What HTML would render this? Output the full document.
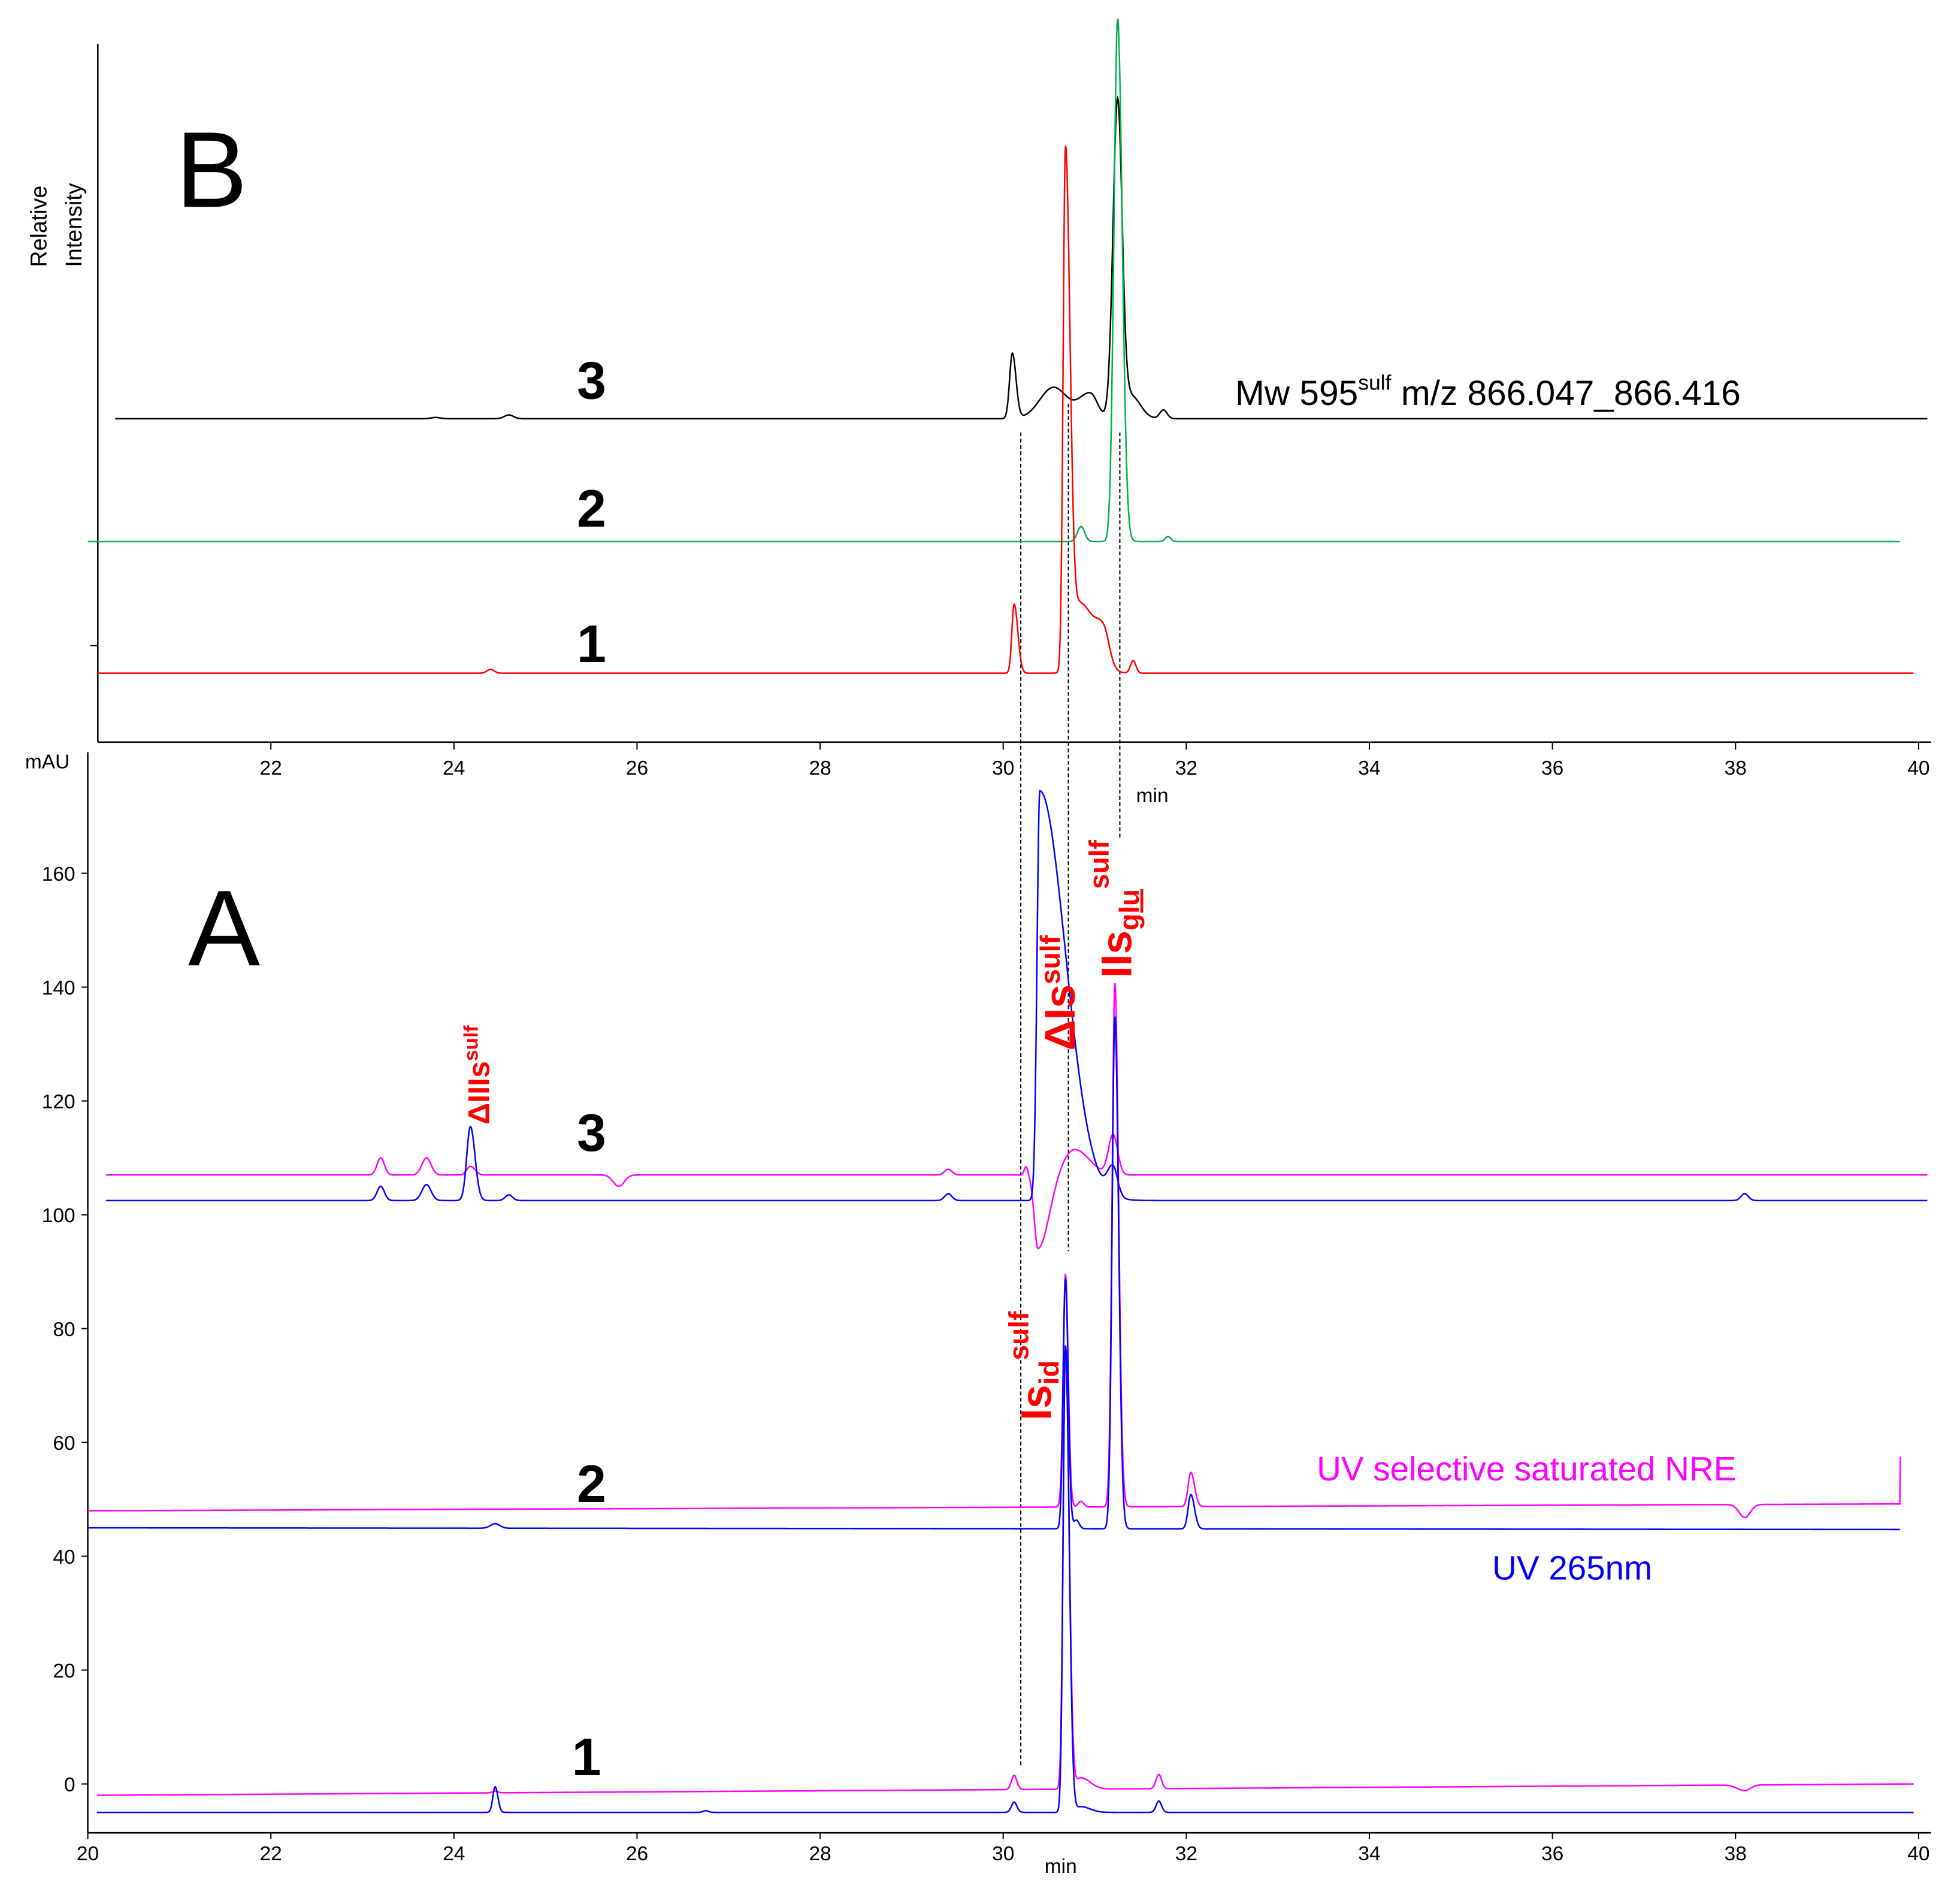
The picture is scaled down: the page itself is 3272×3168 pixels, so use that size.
<!DOCTYPE html>
<html><head><meta charset="utf-8"><style>
html,body{margin:0;padding:0;background:#fff}
svg{display:block}
text{font-family:"Liberation Sans",sans-serif}
</style></head><body>
<svg id="chart" width="3272" height="3168" viewBox="0 0 1563 1514" preserveAspectRatio="none" xmlns="http://www.w3.org/2000/svg">
<g id="axes"></g>
<g id="traces"></g>
<g id="labels">
<text x="140" y="165" font-size="86">B</text>
<text x="150" y="770" font-size="86">A</text>
<text transform="translate(37,213) rotate(-90)" font-size="18">Relative</text>
<text transform="translate(65,213) rotate(-90)" font-size="18">Intensity</text>
<text x="20" y="613" font-size="16">mAU</text>
<text x="906" y="640" font-size="16">min</text>
<text x="833" y="1494" font-size="16">min</text>
<g font-size="42" font-weight="bold">
<text x="460" y="318">3</text>
<text x="460" y="420">2</text>
<text x="460" y="528">1</text>
<text x="460" y="918">3</text>
<text x="460" y="1198">2</text>
<text x="456" y="1416">1</text>
</g>
<text x="985" y="323" font-size="28">Mw 595<tspan font-size="17" dy="-12">sulf</tspan><tspan dy="12"> m/z 866.047_866.416</tspan></text>
<text x="1050" y="1181" font-size="27" fill="#ff00ff">UV selective saturated NRE</text>
<text x="1190" y="1260" font-size="27" fill="#0000ff">UV 265nm</text>
<g fill="#ff0000" font-weight="bold">
<text transform="translate(390,897) rotate(-90)" font-size="24">ΔIIIs<tspan font-size="16" dy="-9">sulf</tspan></text>
<text transform="translate(857,838) rotate(-90)" font-size="34">ΔIs<tspan font-size="22" dy="-12">sulf</tspan></text>
<text transform="translate(902,780) rotate(-90)" font-size="34">IIs<tspan font-size="22" dy="6" text-decoration="underline">glu</tspan><tspan font-size="22" dy="-24">sulf</tspan></text>
<text transform="translate(838,1133) rotate(-90)" font-size="34">Is<tspan font-size="22" dy="6">id</tspan><tspan font-size="22" dy="-24">sulf</tspan></text>
</g>
</g>
</svg>
<script>
// tick data
const xTicksA = [20,22,24,26,28,30,32,34,36,38,40];
const xTicksB = [22,24,26,28,30,32,34,36,38,40];
const yTicksA = [0,20,40,60,80,100,120,140,160];
// peak data: [time, height, leftWidth, rightWidth]
const peaksB3 = [[24.6,3,0.05,0.05],[23.8,1,0.05,0.05],[30.1,52,0.03,0.04],[30.55,25,0.15,0.15],[30.95,20,0.12,0.08],[31.25,255,0.05,0.05],[31.4,18,0.06,0.1],[31.75,7,0.04,0.04]];
const peaksB2 = [[30.85,12,0.04,0.04],[31.25,417,0.04,0.05],[31.8,4,0.03,0.03]];
const peaksB1 = [[24.4,3,0.04,0.04],[30.12,55,0.025,0.04],[30.68,415,0.025,0.05],[30.85,55,0.08,0.15],[31.1,25,0.08,0.06],[31.42,10,0.03,0.03]];
const peaksA3blue = [[23.2,2.5,0.04,0.04],[23.7,2.8,0.05,0.05],[24.18,13,0.04,0.05],[24.6,1,0.04,0.04],[29.4,1.2,0.04,0.04],[30.4,72,0.03,0.28],[31.2,5,0.06,0.05],[38.1,1.2,0.04,0.04]];
const peaksA3mag = [[23.2,3,0.04,0.04],[23.7,3,0.05,0.05],[24.18,1.5,0.04,0.05],[25.8,-2,0.06,0.06],[29.4,1,0.04,0.04],[30.25,1.5,0.02,0.02],[30.38,-13,0.04,0.12],[30.78,4.5,0.14,0.16],[31.2,7,0.05,0.05]];
const peaksA2blue = [[24.45,0.8,0.05,0.05],[30.68,44,0.025,0.03],[30.8,1.5,0.03,0.03],[31.22,90,0.03,0.04],[32.05,6,0.03,0.04]];
const peaksA2mag = [[30.68,41,0.025,0.03],[30.85,1,0.03,0.03],[31.22,92,0.03,0.04],[32.05,6,0.03,0.04],[38.1,-2.3,0.06,0.06]];
const peaksA1blue = [[24.45,4.5,0.025,0.03],[26.75,0.3,0.03,0.03],[30.12,1.8,0.03,0.03],[30.68,82,0.025,0.04],[30.85,1,0.05,0.1],[31.7,2,0.03,0.03]];
const peaksA1mag = [[24.45,0.3,0.03,0.03],[30.12,2.5,0.03,0.03],[30.68,78,0.025,0.04],[30.85,2,0.05,0.1],[31.7,2.5,0.03,0.03],[38.1,-1,0.08,0.06]];

const NS='http://www.w3.org/2000/svg';
const X=t=>70+(t-20)*73;
const YA=v=>1423-v*4.54;
const axes=document.getElementById('axes'), traces=document.getElementById('traces');
function el(tag,attrs,parent){const e=document.createElementNS(NS,tag);for(const k in attrs)e.setAttribute(k,attrs[k]);parent.appendChild(e);return e;}
function sig(t,peaks){let s=0;for(const p of peaks){const w=t<p[0]?p[2]:p[3];s+=p[1]*Math.exp(-0.5*((t-p[0])/w)**2);}return s;}
function trace(name,color,t0,t1,base,drift,peaks,Yf,scale){
  let d='';for(let t=t0;t<=t1;t+=0.005){const v=base+drift*(t-t0)/(t1-t0)+sig(t,peaks);d+=(d?'L':'M')+X(t).toFixed(2)+' '+Yf(v*scale).toFixed(2);}
  const p=el('path',{d:d,fill:'none',stroke:color,'stroke-width':1.2},traces);
  
  
  return p;}
// axes A
let a=el('line',{x1:70,y1:600,x2:70,y2:1462,stroke:'#000','stroke-width':1.2},axes);

a=el('line',{x1:70,y1:1462,x2:1540,y2:1462,stroke:'#000','stroke-width':1.2},axes);

for(const t of xTicksA){el('line',{x1:X(t),y1:1462,x2:X(t),y2:1467,stroke:'#000'},axes);
 const tx=el('text',{x:X(t),y:1484,'font-size':16,'text-anchor':'middle'},axes);tx.textContent=t;
 }
for(const v of yTicksA){el('line',{x1:65,y1:YA(v),x2:70,y2:YA(v),stroke:'#000'},axes);
 const tx=el('text',{x:60,y:YA(v)+6,'font-size':16,'text-anchor':'end'},axes);tx.textContent=v;
 }
// axes B
a=el('line',{x1:78,y1:35,x2:78,y2:592,stroke:'#000','stroke-width':1.2},axes);

a=el('line',{x1:78,y1:592,x2:1540,y2:592,stroke:'#000','stroke-width':1.2},axes);

el('line',{x1:72,y1:515,x2:78,y2:515,stroke:'#000'},axes);
for(const t of xTicksB){el('line',{x1:X(t),y1:592,x2:X(t),y2:598,stroke:'#000'},axes);
 const tx=el('text',{x:X(t),y:618,'font-size':16,'text-anchor':'middle'},axes);tx.textContent=t;
 }
// dashed lines
for(const [x,y1,y2] of [[814,345,1410],[852,322,998],[893,345,668]]){
 const l=el('line',{x1:x,y1:y1,x2:x,y2:y2,stroke:'#000','stroke-dasharray':'3,2','stroke-width':1},axes);
 }
// B traces (pixel units above baseline)
const YB=base=>v=>base-v;
trace('ms-trace-3','#000',20.3,40.1,0,0,peaksB3,YB(334),1);
trace('ms-trace-2','#00b050',20,39.8,0,0,peaksB2,YB(432),1);
trace('ms-trace-1','#ff0000',20.1,39.95,0,0,peaksB1,YB(537),1);
// A traces
trace('uv-trace-3-magenta','#ff00ff',20.2,40.1,107,0,peaksA3mag,YA,1);
trace('uv-trace-3-blue','#0000ff',20.2,40.1,102.5,0,peaksA3blue,YA,1);
const m2=trace('uv-trace-2-magenta','#ff00ff',20,39.8,48,1.2,peaksA2mag,YA,1);
m2.setAttribute('d',m2.getAttribute('d')+'L'+X(39.8)+' '+YA(57.5));
trace('uv-trace-2-blue','#0000ff',20,39.8,45,-0.3,peaksA2blue,YA,1);
trace('uv-trace-1-magenta','#ff00ff',20.1,39.95,-2,2,peaksA1mag,YA,1);
trace('uv-trace-1-blue','#0000ff',20.1,39.95,-5,0,peaksA1blue,YA,1);
</script>
</body></html>
